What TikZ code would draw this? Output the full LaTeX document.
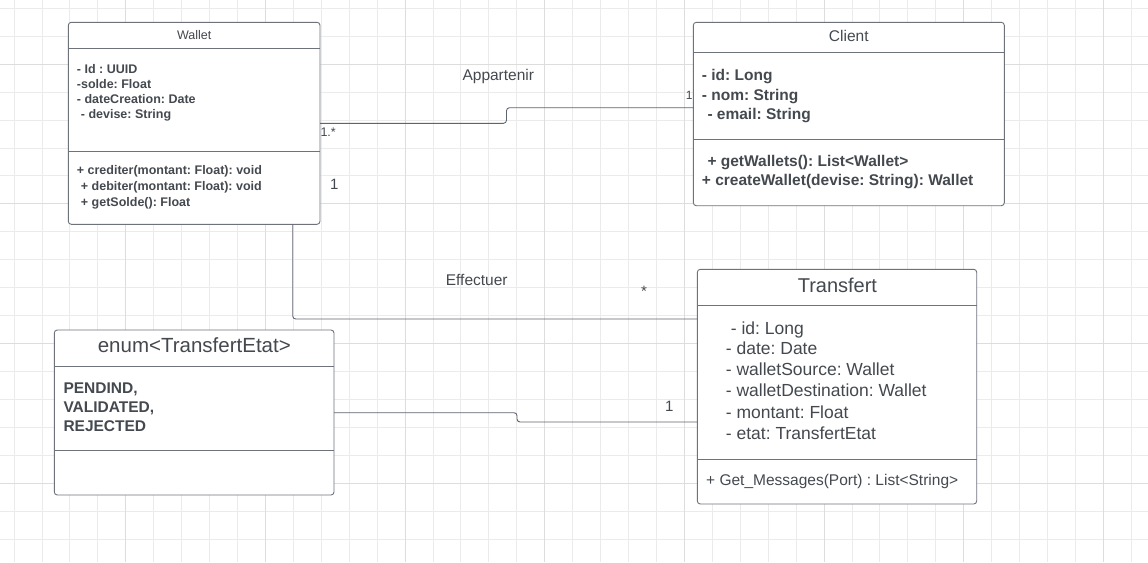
\documentclass[tikz,border=0pt]{standalone}
\usepackage{fontspec}
\setmainfont{Liberation Sans}
\usetikzlibrary{calc}
\definecolor{gridminor}{HTML}{EBEBEB}
\definecolor{gridmajor}{HTML}{DDDDDD}
\definecolor{boxline}{HTML}{6E737B}
\definecolor{txt}{HTML}{44494F}
\definecolor{connline}{HTML}{5F656E}
\frenchspacing
\begin{document}
\begin{tikzpicture}[x=1pt,y=-1pt,
  umlbox/.style={draw=boxline, line width=0.9pt, rounded corners=3pt, fill=white, inner sep=0pt, outer sep=0pt, anchor=north west},
  divider/.style={draw=boxline, line width=0.9pt},
  conn/.style={draw=connline, line width=0.9pt, rounded corners=3pt},
  txtb/.style={anchor=base west, inner sep=0pt, text=txt, font=\fontsize{#1}{#1}\selectfont\bfseries\frenchspacing},
  txtr/.style={anchor=base west, inner sep=0pt, text=txt, font=\fontsize{#1}{#1}\selectfont\frenchspacing},
  title/.style={anchor=base, inner sep=0pt, text=txt, font=\fontsize{#1}{#1}\selectfont},
  lbl/.style={anchor=base, inner sep=0pt, text=txt, font=\fontsize{#1}{#1}\selectfont}
]
\useasboundingbox (0,0) rectangle (1148,562);
\fill[white] (0,0) rectangle (1148,562);
% grid
\foreach \i in {0,...,40} { \draw[gridminor, line width=0.8pt] (14+27.93*\i,0) -- (14+27.93*\i,562); }
\foreach \j in {0,...,19} { \draw[gridminor, line width=0.8pt] (0,8.3+27.93*\j) -- (1148,8.3+27.93*\j); }
\foreach \i in {4,9,...,39} { \draw[gridmajor, line width=0.8pt] (14+27.93*\i,0) -- (14+27.93*\i,562); }
\foreach \j in {2,7,...,17} { \draw[gridmajor, line width=0.8pt] (0,8.3+27.93*\j) -- (1148,8.3+27.93*\j); }

% boxes
\node[umlbox, minimum width=251.7pt, minimum height=202pt] (wallet) at (68.3,22.3) {};
\node[umlbox, minimum width=311pt, minimum height=183.4pt] (client) at (693.3,22.3) {};
\node[umlbox, minimum width=279.4pt, minimum height=234.7pt] (transfert) at (697.3,269.3) {};
\node[umlbox, minimum width=279.7pt, minimum height=165pt] (enum) at (54.3,330) {};

% dividers
\draw[divider] ($(wallet.north west)+(0,26.4)$) -- ($(wallet.north east)+(0,26.4)$);
\draw[divider] ($(wallet.north west)+(0,128.7)$) -- ($(wallet.north east)+(0,128.7)$);
\draw[divider] ($(client.north west)+(0,30)$) -- ($(client.north east)+(0,30)$);
\draw[divider] ($(client.north west)+(0,117)$) -- ($(client.north east)+(0,117)$);
\draw[divider] ($(transfert.north west)+(0,36.4)$) -- ($(transfert.north east)+(0,36.4)$);
\draw[divider] ($(transfert.north west)+(0,190)$) -- ($(transfert.north east)+(0,190)$);
\draw[divider] ($(enum.north west)+(0,36)$) -- ($(enum.north east)+(0,36)$);
\draw[divider] ($(enum.north west)+(0,120)$) -- ($(enum.north east)+(0,120)$);

% Wallet texts
\node[title=12.5] (wt) at (194.2,39.3) {Wallet};
\node[txtb=12.5] (wa1) at (76.7,73) {- Id : UUID};
\node[txtb=12.5] (wa2) at (76.7,88.5) {-solde: Float};
\node[txtb=12.5] (wa3) at (76.7,103.5) {- dateCreation: Date};
\node[txtb=12.5] (wa4) at (80.7,118.5) {- devise: String};
\node[txtb=12.5] (wm1) at (76.7,174.5) {+ crediter(montant: Float): void};
\node[txtb=12.5] (wm2) at (80.7,190.5) {+ debiter(montant: Float): void};
\node[txtb=12.5] (wm3) at (80.7,206.2) {+ getSolde(): Float};

% Client texts
\node[title=15.5] (ct) at (848.8,41.7) {Client};
\node[txtb=15.5] (ca1) at (701.7,80.7) {- id: Long};
\node[txtb=15.5] (ca2) at (701.7,100) {- nom: String};
\node[txtb=15.5] (ca3) at (707.3,119.3) {- email: String};
\node[txtb=15.5] (cm1) at (707.3,166.7) {+ getWallets(): List<Wallet>};
\node[txtb=15.5] (cm2) at (701.7,185.7) {+ createWallet(devise: String): Wallet};

% Transfert texts
\node[title=20] (tt) at (837.4,292.3) {Transfert};
\node[txtr=17.5] (ta1) at (730.7,334) {- id: Long};
\node[txtr=17.5] (ta2) at (725.7,354.3) {- date: Date};
\node[txtr=17.5] (ta3) at (725.7,375.3) {- walletSource: Wallet};
\node[txtr=17.5] (ta4) at (725.7,396.7) {- walletDestination: Wallet};
\node[txtr=17.5] (ta5) at (725.7,418.3) {- montant: Float};
\node[txtr=17.5] (ta6) at (725.7,439.3) {- etat: TransfertEtat};
\node[txtr=15.5] (tm1) at (706,485) {+ Get\_Messages(Port) : List<String>};

% Enum texts
\node[title=20.5] (et) at (194.3,352.3) {enum<TransfertEtat>};
\node[txtb=15.5] (e1) at (63.3,393.3) {PENDIND,};
\node[txtb=15.5] (e2) at (63.3,412.3) {VALIDATED,};
\node[txtb=15.5] (e3) at (63.3,431.7) {REJECTED};

% connectors
\coordinate (j1) at (506.5,107.7);
\coordinate (j2) at (517,422);
\draw[conn] ($(wallet.north east)+(0,101)$) -| (j1) -- ($(client.north west)+(0,85.4)$);
\draw[conn] ($(wallet.south west)+(224.4,0)$) |- ($(transfert.north west)+(0,49.7)$);
\draw[conn] ($(enum.north east)+(0,82.7)$) -| (j2) -- ($(transfert.north west)+(0,152.7)$);

% connector labels
\node[lbl=15.5] (l1) at (498.3,80) {Appartenir};
\node[anchor=base west, inner sep=0pt, text=txt, font=\fontsize{12.5}{12.5}\selectfont] (l2) at (320.3,136) {1.*};
\node[lbl=12] (l3) at (689.3,99.3) {1};
\node[lbl=15] (l4) at (334.3,189) {1};
\node[lbl=15.5] (l5) at (476.7,285) {Effectuer};
\node[lbl=15] (l6) at (644,296) {*};
\node[lbl=15] (l7) at (669.3,411.7) {1};
\end{tikzpicture}
\end{document}
